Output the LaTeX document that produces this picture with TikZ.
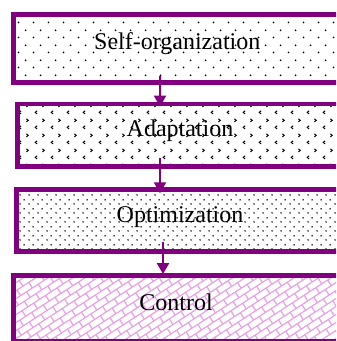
\documentclass[tikz,border=0pt]{standalone}
\usepackage{fontspec}
\setmainfont{Liberation Serif}
\usetikzlibrary{patterns.meta,arrows.meta}

\definecolor{frame}{RGB}{128,0,128}
\definecolor{brickpink}{RGB}{232,160,228}

% fill patterns for the four stages
\pgfdeclarepattern{
  name=sparsedots, type=uncolored,
  bottom left={\pgfpoint{0pt}{0pt}}, top right={\pgfpoint{7.5pt}{7.5pt}},
  tile size={\pgfpoint{7.5pt}{7.5pt}},
  code={
    \pgfpathcircle{\pgfpoint{1.875pt}{1.875pt}}{0.5pt}
    \pgfpathcircle{\pgfpoint{5.625pt}{5.625pt}}{0.5pt}
    \pgfusepath{fill}
  }
}
\pgfdeclarepattern{
  name=chevrons, type=uncolored,
  bottom left={\pgfpoint{0pt}{0pt}}, top right={\pgfpoint{8pt}{7.5pt}},
  tile size={\pgfpoint{8pt}{7.5pt}},
  code={
    \pgfsetlinewidth{0.5pt}
    \pgfpathmoveto{\pgfpoint{2.7pt}{2.7pt}}
    \pgfpathlineto{\pgfpoint{1.7pt}{1.9pt}}
    \pgfpathlineto{\pgfpoint{2.7pt}{1.1pt}}
    \pgfpathmoveto{\pgfpoint{5.5pt}{6.4pt}}
    \pgfpathlineto{\pgfpoint{6.5pt}{5.6pt}}
    \pgfpathlineto{\pgfpoint{5.5pt}{4.8pt}}
    \pgfusepath{stroke}
  }
}
\pgfdeclarepattern{
  name=densedots, type=uncolored,
  bottom left={\pgfpoint{0pt}{0pt}}, top right={\pgfpoint{4.5pt}{4.5pt}},
  tile size={\pgfpoint{4.5pt}{4.5pt}},
  code={
    \pgfpathcircle{\pgfpoint{1.125pt}{1.125pt}}{0.45pt}
    \pgfpathcircle{\pgfpoint{3.375pt}{3.375pt}}{0.45pt}
    \pgfusepath{fill}
  }
}
\pgfdeclarepattern{
  name=slantbricks, type=uncolored,
  bottom left={\pgfpoint{-0.4pt}{-0.4pt}}, top right={\pgfpoint{7.4pt}{7.1pt}},
  tile size={\pgfpoint{7pt}{6.7pt}},
  tile transformation={\pgftransformrotate{33}},
  code={
    \pgfsetlinewidth{0.6pt}
    \pgfpathmoveto{\pgfpoint{0pt}{0pt}}\pgfpathlineto{\pgfpoint{7pt}{0pt}}
    \pgfpathmoveto{\pgfpoint{0pt}{3.35pt}}\pgfpathlineto{\pgfpoint{7pt}{3.35pt}}
    \pgfpathmoveto{\pgfpoint{0pt}{0pt}}\pgfpathlineto{\pgfpoint{0pt}{3.35pt}}
    \pgfpathmoveto{\pgfpoint{3.5pt}{3.35pt}}\pgfpathlineto{\pgfpoint{3.5pt}{6.7pt}}
    \pgfusepath{stroke}
  }
}

\tikzset{
  stage/.style={draw=frame, line width=2.5pt, inner sep=0pt,
    text height=4pt, text depth=2.5pt,
    font=\fontsize{12pt}{14pt}\selectfont},
  flow/.style={draw=frame, line width=1pt, -{Triangle[width=6pt,length=5.5pt]}}
}

\begin{document}
\begin{tikzpicture}[x=0.5pt,y=-0.5pt]
\useasboundingbox (0,0) rectangle (336,341);
\clip (0,0) rectangle (336,341);

\node [stage,pattern=sparsedots,minimum width=163.75pt,minimum height=33.8pt] (selforg) at (177.25,48.5) {Self-organization};
\node [stage,line width=2.25pt,pattern=chevrons,minimum width=162.5pt,minimum height=31.15pt] (adapt) at (180,135.2) {Adaptation};
\node [stage,pattern=densedots,minimum width=163.7pt,minimum height=30.9pt] (optim) at (180,220.7) {Optimization};
\node [stage,pattern=slantbricks,pattern color=brickpink,minimum width=163pt,minimum height=33pt] (ctrl) at (176,308.8) {Control};

\draw[flow]([xshift=-8.6pt,yshift=4.5pt]selforg.south)--([xshift=-10pt,yshift=-2.4pt]adapt.north);
\draw[flow]([xshift=-10pt,yshift=5.2pt]adapt.south)--([xshift=-10pt,yshift=-3pt]optim.north);
\draw[flow]([xshift=-8.5pt,yshift=6.2pt]optim.south)--([xshift=-6.5pt,yshift=-0.4pt]ctrl.north);

\end{tikzpicture}
\end{document}
